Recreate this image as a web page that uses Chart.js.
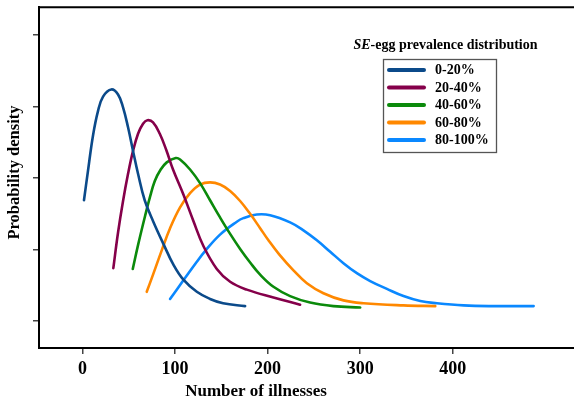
<!DOCTYPE html>
<html>
<head>
<meta charset="utf-8">
<script src="https://cdn.jsdelivr.net/npm/chart.js@4.4.1/dist/chart.umd.min.js"></script>
<style>
html,body{margin:0;padding:0;background:#fff;overflow:hidden;}
canvas{display:block;}
</style>
</head>
<body>
<canvas id="c" width="574" height="405"></canvas>
<script>
// ---- data ----
const xTickValues = [0, 100, 200, 300, 400];
const yTickValues = [0, 1, 2, 3, 4];
const seriesLabels = ['0-20%', '20-40%', '40-60%', '60-80%', '80-100%'];
const legendTitleItalic = 'SE';
const legendTitleRest = '-egg prevalence distribution';
const xTitle = 'Number of illnesses';
const yTitle = 'Probability density';

const x0 = [1.6, 5.9, 11.4, 16.8, 22.2, 31.1, 38.4, 43.8, 49.2, 54.6, 60.0, 67.2, 76.5, 87.4, 98.2, 109, 123.5, 137.8, 151.9, 175.7];
const y0 = [1.69, 2.10, 2.60, 2.94, 3.14, 3.24, 3.17, 2.99, 2.71, 2.38, 2.06, 1.69, 1.39, 1.08, 0.79, 0.58, 0.41, 0.31, 0.25, 0.21];

const x1 = [33.3, 38.4, 43.8, 49.2, 54.6, 60.0, 65.4, 70.1, 76.2, 83.5, 90.6, 97.8, 109, 119.8, 130.6, 145.1, 159.5, 177.5, 206.3, 235.1];
const y1 = [0.74, 1.24, 1.68, 2.06, 2.38, 2.62, 2.76, 2.81, 2.78, 2.62, 2.39, 2.12, 1.77, 1.40, 1.05, 0.73, 0.55, 0.44, 0.33, 0.23];

const x2 = [54.3, 60.3, 67.6, 73.0, 78.1, 84.0, 91.0, 100.7, 105.4, 116.2, 127.0, 137.8, 148.6, 159.5, 170.3, 181.1, 191.9, 206.3, 224.3, 245.9, 271.1, 300];
const y2 = [0.73, 1.08, 1.47, 1.74, 1.96, 2.11, 2.22, 2.28, 2.26, 2.12, 1.93, 1.69, 1.45, 1.22, 1.01, 0.82, 0.65, 0.48, 0.35, 0.26, 0.21, 0.19];

const x3 = [69.4, 76.5, 85.6, 94.6, 105.4, 116.2, 127.0, 137.8, 148.6, 159.5, 170.3, 181.1, 191.9, 200.9, 212.7, 227.9, 242.4, 260.3, 281.9, 303.6, 346.8, 381.1];
const y3 = [0.41, 0.66, 0.99, 1.30, 1.59, 1.79, 1.91, 1.94, 1.91, 1.82, 1.68, 1.50, 1.30, 1.13, 0.93, 0.71, 0.53, 0.39, 0.29, 0.25, 0.22, 0.21];

const x4 = [94.6, 109, 123.5, 132.4, 148.6, 166.7, 173.8, 188.3, 202.7, 224.3, 238.7, 253.2, 267.6, 281.9, 296.4, 310.8, 328.9, 346.8, 364.9, 382.9, 411.7, 440.5, 487.4];
const y4 = [0.31, 0.57, 0.83, 0.98, 1.21, 1.39, 1.44, 1.49, 1.48, 1.38, 1.27, 1.13, 0.97, 0.81, 0.67, 0.56, 0.45, 0.35, 0.28, 0.25, 0.22, 0.21, 0.21];

const seriesX = [x0, x1, x2, x3, x4];
const seriesY = [y0, y1, y2, y3, y4];
const colors = ['#0b4a8a', '#85004a', '#0b8a0b', '#ff8800', '#0a88ff'];

const SERIF = '"Liberation Serif", "Times New Roman", serif';

const datasets = seriesLabels.map((lab, i) => ({
  label: lab,
  data: seriesX[i].map((x, j) => ({ x: x, y: seriesY[i][j] })),
  borderColor: colors[i],
  backgroundColor: colors[i],
  borderWidth: 2.6,
  pointRadius: 0,
  fill: false,
  tension: 0.4,
  borderCapStyle: 'round'
}));

const decorPlugin = {
  id: 'decor',
  afterDraw(chart) {
    const ctx = chart.ctx;
    const a = chart.chartArea;
    ctx.save();
    // top frame line
    ctx.strokeStyle = '#000';
    ctx.lineWidth = 2;
    ctx.beginPath();
    ctx.moveTo(a.left - 1, a.top);
    ctx.lineTo(chart.width, a.top);
    ctx.stroke();

    ctx.fillStyle = '#000';
    // x title
    ctx.font = 'bold 17px ' + SERIF;
    ctx.textAlign = 'center';
    ctx.textBaseline = 'middle';
    ctx.fillText(xTitle, 256, 392);
    // y title
    ctx.save();
    ctx.translate(15, 172.5);
    ctx.rotate(-Math.PI / 2);
    ctx.font = 'bold 16.5px ' + SERIF;
    ctx.fillText(yTitle, 0, 0);
    ctx.restore();

    // legend title
    ctx.textAlign = 'left';
    ctx.font = 'italic bold 14px ' + SERIF;
    const w1 = ctx.measureText(legendTitleItalic).width;
    ctx.font = 'bold 14px ' + SERIF;
    const w2 = ctx.measureText(legendTitleRest).width;
    const cx = 445.5;
    const sx = cx - (w1 + w2) / 2;
    ctx.font = 'italic bold 14px ' + SERIF;
    ctx.fillText(legendTitleItalic, sx, 45);
    ctx.font = 'bold 14px ' + SERIF;
    ctx.fillText(legendTitleRest, sx + w1, 45);

    // legend box
    ctx.strokeStyle = '#555';
    ctx.lineWidth = 1.3;
    ctx.strokeRect(383.5, 59.5, 113, 93);
    chart.data.datasets.forEach((ds, i) => {
      const y = 70 + i * 17.5;
      ctx.strokeStyle = ds.borderColor;
      ctx.lineWidth = 4;
      ctx.lineCap = 'round';
      ctx.beginPath();
      ctx.moveTo(389, y);
      ctx.lineTo(424, y);
      ctx.stroke();
      ctx.fillStyle = '#000';
      ctx.font = 'bold 14px ' + SERIF;
      ctx.textBaseline = 'middle';
      ctx.fillText(ds.label, 435, y + 0.5);
    });
    ctx.restore();
  }
};

new Chart(document.getElementById('c'), {
  type: 'line',
  data: { datasets: datasets },
  options: {
    responsive: false,
    animation: false,
    events: [],
    layout: { padding: { top: 6, right: 0, left: 0, bottom: 0 } },
    plugins: { legend: { display: false }, tooltip: { enabled: false } },
    scales: {
      x: {
        type: 'linear',
        min: -47,
        max: 531,
        afterBuildTicks(scale) { scale.ticks = xTickValues.map(v => ({ value: v })); },
        afterFit(scale) { scale.height = 57; },
        grid: { drawOnChartArea: false, drawTicks: true, tickLength: 6, color: '#444', lineWidth: 1.5 },
        border: { display: true, color: '#000', width: 2 },
        ticks: {
          color: '#000',
          padding: 5,
          maxRotation: 0,
          font: { family: SERIF, size: 18, weight: 'bold' },
          callback: (v) => String(v)
        }
      },
      y: {
        type: 'linear',
        min: -0.376,
        max: 4.39,
        afterBuildTicks(scale) { scale.ticks = yTickValues.map(v => ({ value: v })); },
        afterFit(scale) { scale.width = 39; },
        grid: { drawOnChartArea: false, drawTicks: true, tickLength: 6, color: '#444', lineWidth: 1.5 },
        border: { display: true, color: '#000', width: 2 },
        ticks: { padding: 0, callback: () => '' }
      }
    }
  },
  plugins: [decorPlugin]
});
</script>
</body>
</html>
